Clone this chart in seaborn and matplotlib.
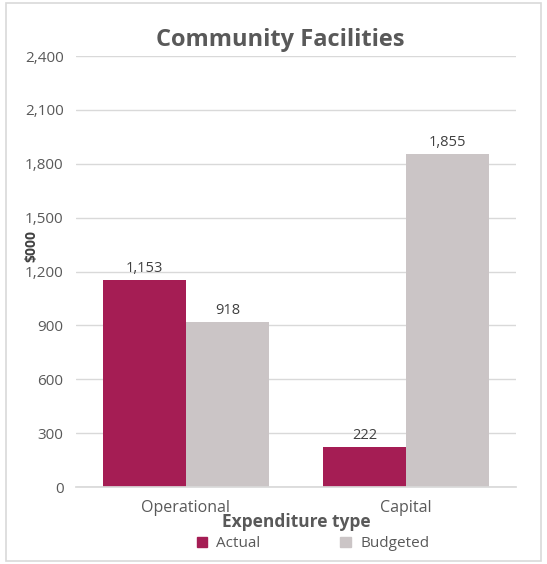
import matplotlib
matplotlib.use("Agg")
import matplotlib.pyplot as plt
import matplotlib.patches as mpatches
import seaborn as sns
import pandas as pd

categories = ["Operational", "Capital"]
series = ["Actual", "Budgeted"]
actual = [1153, 222]
budgeted = [918, 1855]
yticks = [0, 300, 600, 900, 1200, 1500, 1800, 2100, 2400]

colors = {"Actual": "#A51D54", "Budgeted": "#CBC5C6"}
text_col = "#595959"

df = pd.DataFrame({
    "Expenditure type": categories * 2,
    "Series": [series[0]] * 2 + [series[1]] * 2,
    "Value": actual + budgeted,
})

sns.set_theme(style="white")
plt.rcParams["font.family"] = ["Open Sans", "DejaVu Sans"]

fig = plt.figure(figsize=(5.47, 5.64), dpi=100)
ax = fig.add_axes([0.139, 0.1365, 0.804, 0.7642])

sns.barplot(data=df, x="Expenditure type", y="Value", hue="Series",
            order=categories, hue_order=series, palette=colors,
            width=0.755, saturation=1, ax=ax, legend=False, errorbar=None,
            linewidth=0)

ax.set_xlim(-0.5, 1.5)
ax.set_ylim(0, 2400)
ax.set_yticks(yticks)
ax.set_yticklabels([f"{v:,}" for v in yticks], color=text_col, fontsize=11)
ax.tick_params(axis="x", colors=text_col, labelsize=11.5, length=0, pad=9)
ax.tick_params(axis="y", length=0, pad=9)
ax.grid(axis="y", color="#D9D9D9", linewidth=1)
ax.set_axisbelow(True)
for s in ["top", "right", "left"]:
    ax.spines[s].set_visible(False)
ax.spines["bottom"].set_color("#D9D9D9")

for cont in ax.containers:
    ax.bar_label(cont, labels=[f"{v:,.0f}" for v in cont.datavalues],
                 padding=3, fontsize=10.5, color="#404040")

ax.set_xlabel("Expenditure type", fontsize=12.5, fontweight="bold",
              color=text_col, labelpad=-2)
ax.set_ylabel("$000", fontsize=10, fontweight="bold", color="#404040")
ax.yaxis.set_label_coords(-0.085, 0.56)
fig.suptitle("Community Facilities", fontsize=17, fontweight="bold",
             color=text_col, x=0.512, y=0.95)

handles = [mpatches.Patch(color=colors[s], label=s) for s in series]
fig.legend(handles=handles, loc="center", bbox_to_anchor=(0.572, 0.036),
           ncol=2, frameon=False, fontsize=11, labelcolor=text_col,
           handlelength=0.7, handleheight=0.7, columnspacing=5.2,
           handletextpad=0.6)

# outer chart frame
fig.patches.append(mpatches.Rectangle((0.011, 0.005), 0.978, 0.99,
                                      transform=fig.transFigure, fill=False,
                                      edgecolor="#D9D9D9", linewidth=1.2))

fig.savefig("out.png", dpi=100)
